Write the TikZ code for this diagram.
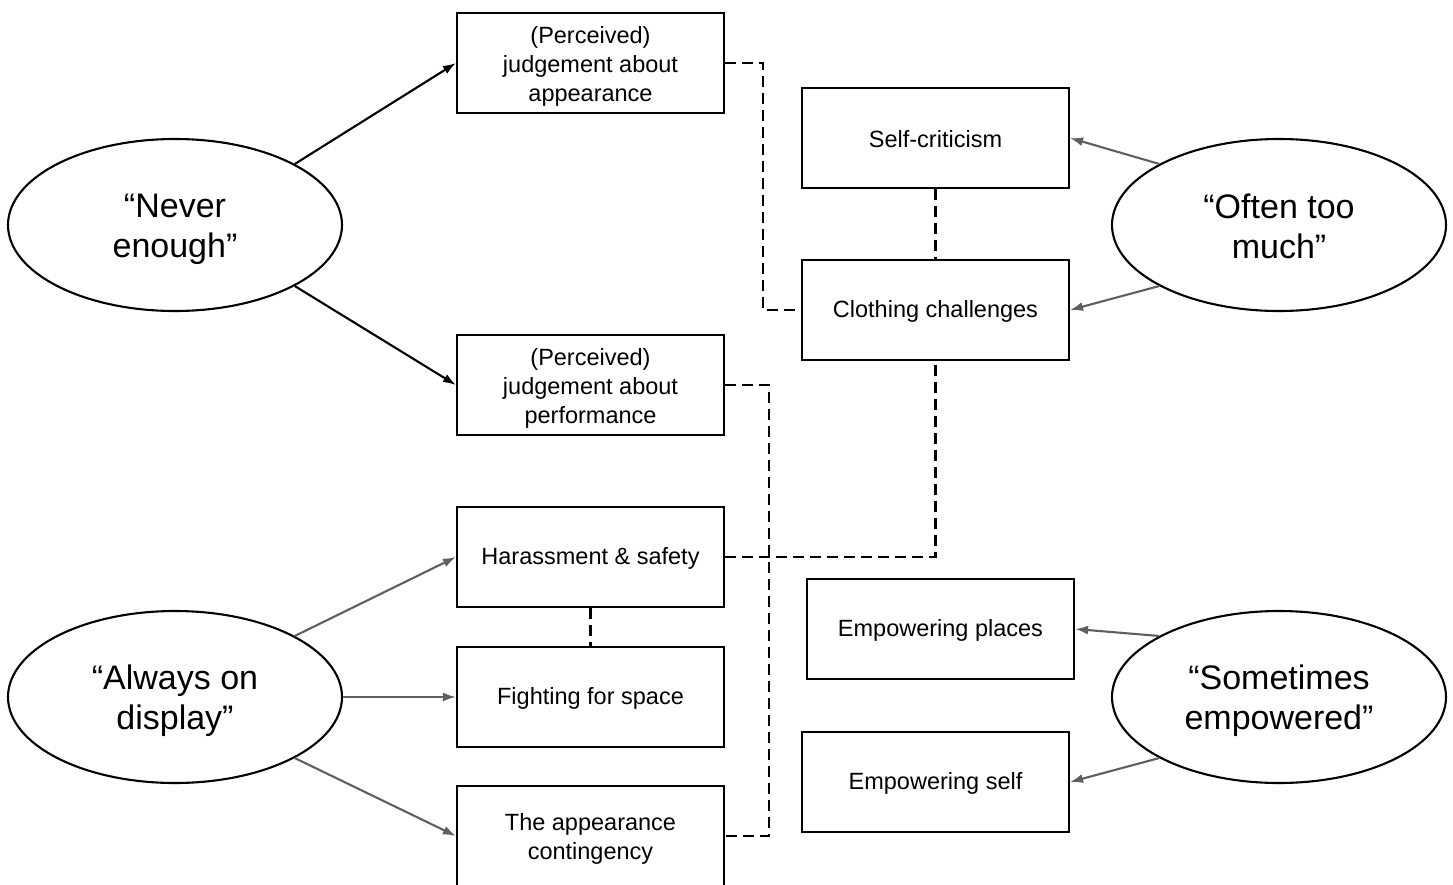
\documentclass[tikz,border=0pt]{standalone}
\usepackage{fontspec}
\setmainfont{Liberation Sans}
\usetikzlibrary{shapes.geometric,arrows.meta}
\definecolor{arrowgray}{HTML}{5F5F5F}
\tikzset{
  box/.style={draw=black, line width=2.1pt, minimum width=267pt, minimum height=100pt, inner sep=0pt},
  boxtext/.style={align=center, inner sep=0pt, font=\fontsize{23.5}{29}\selectfont},
  oval/.style={ellipse, draw=black, line width=2.1pt, minimum width=334pt, minimum height=172pt, inner sep=0pt},
  ovaltext/.style={align=center, inner sep=0pt, font=\fontsize{34}{40}\selectfont},
  blackarrow/.style={draw=black, line width=2.1pt, -{Latex[length=13pt,width=9pt]}},
  grayarrow/.style={draw=arrowgray, line width=2.1pt, -{Latex[length=13pt,width=9pt]}},
  dashlink/.style={draw=black, line width=2.1pt, dash pattern=on 11pt off 6pt}
}
\begin{document}
\begin{tikzpicture}[x=1pt,y=-1pt]
\useasboundingbox (0,0) rectangle (1453,884);
\clip (0,0) rectangle (1453,884);
% ellipses
\node[oval, label={[ovaltext, yshift=-4pt]center:{“Never\\enough”}}] (ne) at (175,225) {};
\node[oval, label={[ovaltext, yshift=-1pt]center:{“Often too\\much”}}] (otm) at (1279,225) {};
\node[oval, label={[ovaltext, yshift=-4pt]center:{“Always on\\display”}}] (ad) at (175,697) {};
\node[oval, label={[ovaltext, yshift=-4pt]center:{“Sometimes\\empowered”}}] (se) at (1279,697) {};
% boxes
\node[box, label={[boxtext, yshift=-3pt]center:{(Perceived)\\judgement about\\appearance}}] (app) at (590.5,63) {};
\node[box, label={[boxtext, yshift=-3pt]center:{(Perceived)\\judgement about\\performance}}] (perf) at (590.5,385) {};
\node[box, label={[boxtext, yshift=-1.5pt]center:{Harassment \& safety}}] (har) at (590.5,557) {};
\node[box, label={[boxtext, yshift=-1.5pt]center:{Fighting for space}}] (fight) at (590.5,697) {};
\node[box, label={[boxtext, yshift=-3pt]center:{The appearance\\contingency}}] (cont) at (590.5,836) {};
\node[box, label={[boxtext, yshift=-1.5pt]center:{Self-criticism}}] (selfc) at (935.5,138) {};
\node[box, label={[boxtext, yshift=-1.5pt]center:{Clothing challenges}}] (cloth) at (935.5,310) {};
\node[box, label={[boxtext, yshift=-1.5pt]center:{Empowering places}}] (places) at (940.5,629) {};
\node[box, label={[boxtext, yshift=-1.5pt]center:{Empowering self}}] (eself) at (935.5,782) {};
% coordinates for dashed routes
\coordinate (c1) at (763,63);
\coordinate (c2) at (763,310);
\coordinate (c3) at (769,385);
\coordinate (c4) at (769,836);
\coordinate (c5) at (935.5,557);
% arrows
\draw[blackarrow] (ne.27) -- (app.west);
\draw[blackarrow] (ne.-27) -- (perf.west);
\draw[grayarrow] (otm.153) -- (selfc.east);
\draw[grayarrow] (otm.207) -- (cloth.east);
\draw[grayarrow] (ad.27) -- (har.west);
\draw[grayarrow] (ad.east) -- (fight.west);
\draw[grayarrow] (ad.-27) -- (cont.west);
\draw[grayarrow] (se.153) -- (places.east);
\draw[grayarrow] (se.207) -- (eself.east);
% dashed links
\draw[dashlink] (app.east) -- (c1) -- (c2) -- (cloth.west);
\draw[dashlink] (selfc.south) -- (cloth.north);
\draw[dashlink] (perf.east) -- (c3) -- (c4) -- (cont.east);
\draw[dashlink] (har.east) -- (c5) -- (cloth.south);
\draw[dashlink] (har.south) -- (fight.north);
\end{tikzpicture}
\end{document}
